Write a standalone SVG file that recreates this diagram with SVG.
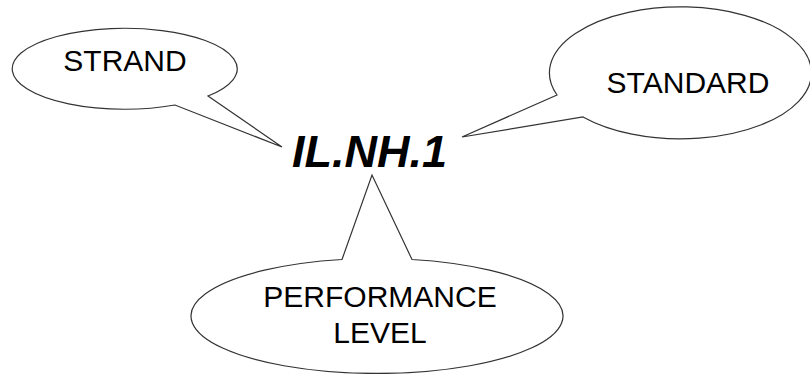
<svg xmlns="http://www.w3.org/2000/svg" width="810" height="374" viewBox="0 0 810 374">
<style>
.bubble{fill:#fff;stroke:#333;stroke-width:1.2;stroke-linejoin:miter}
.lbl{font-family:"Liberation Sans",Arial,sans-serif;font-size:30px;fill:#000;text-anchor:middle}
.main{font-family:"Liberation Sans",Arial,sans-serif;font-size:45px;font-weight:bold;font-style:italic;fill:#000}
</style>
<rect width="810" height="374" fill="#fff"/>
<g id="connectors"></g>
<g id="strand">
<path class="bubble" d="M 208 96 L 282 147 L 175 105 A 112.5 40.5 0 1 1 208 96 Z"/>
<text class="lbl" x="125" y="71">STRAND</text>
</g>
<g id="standard">
<path class="bubble" d="M 557 95 L 462 137 L 583 117 A 131 66 0 1 0 557 95 Z"/>
<text class="lbl" x="688" y="93">STANDARD</text>
</g>
<g id="performance">
<path class="bubble" d="M 342 259.5 L 372 175 L 412 259.5 A 186 57.5 0 1 1 342 259.5 Z"/>
<text class="lbl" x="380" y="307">PERFORMANCE</text>
<text class="lbl" x="380" y="343">LEVEL</text>
</g>
<g id="center">
<text class="main" x="292" y="167">IL.NH.1</text>
</g>
</svg>
